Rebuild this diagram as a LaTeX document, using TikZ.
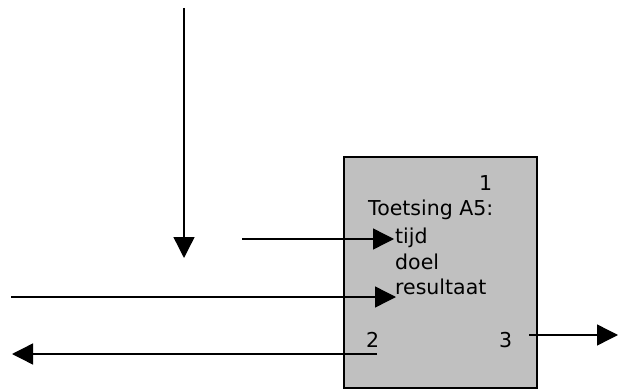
\documentclass[tikz,border=0pt]{standalone}
\usepackage{fontspec}
\setmainfont{DejaVu Sans}
\usetikzlibrary{arrows.meta}
\begin{document}
\begin{tikzpicture}[x=1pt,y=-1pt,
  conn/.style={line width=1.4pt,-{Triangle[length=21pt,width=21pt]}},
  lbl/.style={anchor=base west,inner sep=0pt,font=\fontsize{20.5pt}{24pt}\selectfont}]
\useasboundingbox (0,0) rectangle (618,390);
\draw[fill={rgb,255:red,192;green,192;blue,192},line width=1.4pt] (344,157) rectangle (537,388);
\node[lbl] (n1) at (479,190) {1};
\node[lbl] (t0) at (368,215) {Toetsing A5:};
\node[lbl] (t1) at (395,243) {tijd};
\node[lbl] (t2) at (395,269) {doel};
\node[lbl] (t3) at (395,294) {resultaat};
\node[lbl] (n2) at (366,347) {2};
\node[lbl] (n3) at (499,347) {3};
\coordinate (a1s) at (184,8);
\coordinate (a1e) at (184,258);
\coordinate (a2s) at (242,239);
\coordinate (a2e) at (394,239);
\coordinate (a3s) at (11,297);
\coordinate (a3e) at (396,297);
\coordinate (a4s) at (377,354);
\coordinate (a4e) at (12,354);
\coordinate (a5s) at (529,335);
\coordinate (a5e) at (618,335);
\draw[conn] (a1s) -- (a1e);
\draw[conn] (a2s) -- (a2e);
\draw[conn] (a3s) -- (a3e);
\draw[conn] (a4s) -- (a4e);
\draw[conn] (a5s) -- (a5e);
\end{tikzpicture}
\end{document}
